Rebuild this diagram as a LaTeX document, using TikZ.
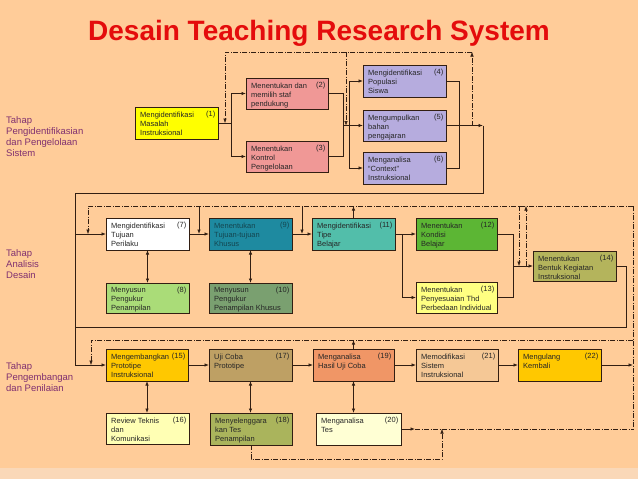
\documentclass[tikz,border=0pt]{standalone}
\usepackage{fontspec}
\setmainfont{Liberation Sans}
\usetikzlibrary{arrows.meta}
\definecolor{bgc}{RGB}{255,204,153}
\definecolor{bandc}{RGB}{250,216,184}
\definecolor{ttl}{RGB}{228,12,12}
\definecolor{lblc}{RGB}{128,48,112}
\definecolor{ln}{RGB}{50,30,18}
\definecolor{c1}{RGB}{255,255,0}
\definecolor{c2}{RGB}{240,152,150}
\definecolor{c4}{RGB}{182,172,222}
\definecolor{c8}{RGB}{170,220,120}
\definecolor{c9}{RGB}{30,138,160}
\definecolor{c10}{RGB}{122,160,112}
\definecolor{c11}{RGB}{82,190,170}
\definecolor{c12}{RGB}{92,182,52}
\definecolor{c13}{RGB}{255,255,130}
\definecolor{c14}{RGB}{180,180,92}
\definecolor{c15}{RGB}{255,200,0}
\definecolor{c16}{RGB}{255,255,180}
\definecolor{c17}{RGB}{190,160,100}
\definecolor{c18}{RGB}{170,180,92}
\definecolor{c19}{RGB}{240,150,102}
\definecolor{c20}{RGB}{255,255,212}
\definecolor{c21}{RGB}{245,200,150}
\definecolor{t9}{RGB}{20,70,80}
\newcommand\mybox[8]{%
  \node[boxst, fill=#6, minimum width=#4pt, minimum height=#5pt, anchor=north west] (#1) at (#2,#3) {};
  \node[boxtxt, anchor=north west] (#1t) at ([xshift=5pt,yshift=-4.5pt]#1.north west) {#7};
  \node[boxnum, anchor=north east] (#1n) at ([xshift=-2.5pt,yshift=-3.5pt]#1.north east) {#8};
}
\begin{document}
\begin{tikzpicture}[x=1pt,y=-1pt,
  boxst/.style={draw=ln, line width=0.8pt, inner sep=0pt, outer sep=0pt},
  boxtxt/.style={font=\fontsize{7.5}{9}\selectfont, align=left, inner sep=0pt, text=black!85},
  boxnum/.style={font=\fontsize{7.5}{9}\selectfont, inner sep=0pt, text=black!85},
  conn/.style={draw=ln, line width=0.75pt},
  arr/.style={conn, -{Latex[length=4.5pt,width=3.5pt]}},
  dbl/.style={conn, {Latex[length=4.5pt,width=3.5pt]}-{Latex[length=4.5pt,width=3.5pt]}},
  dsh/.style={draw=ln, line width=0.5pt, dash pattern=on 5pt off 1.5pt on 1pt off 1.5pt},
  dsharr/.style={dsh, -{Latex[length=4.5pt,width=3.5pt]}},
  lbl/.style={font=\fontsize{9.5}{11}\selectfont, text=lblc, align=left, inner sep=0pt, anchor=north west}
]
\useasboundingbox (0,0) rectangle (638,479);
\fill[bgc] (0,0) rectangle (638,479);
\fill[bandc] (0,468) rectangle (638,479);

\node[font=\fontsize{28}{30}\selectfont\bfseries, text=ttl, inner sep=0pt] (title) at (319,33) {Desain Teaching Research System};

\node[lbl] (L1) at (6,116) {Tahap\\Pengidentifikasian\\dan Pengelolaan\\Sistem};
\node[lbl] (L2) at (6,249) {Tahap\\Analisis\\Desain};
\node[lbl] (L3) at (6,362) {Tahap\\Pengembangan\\dan Penilaian};

% Row 1
\mybox{n1}{135}{107}{83}{32}{c1}{Mengidentifikasi\\Masalah\\Instruksional}{(1)}
\mybox{n2}{246}{78}{82}{31}{c2}{Menentukan dan\\memilih staf\\pendukung}{(2)}
\mybox{n3}{246}{141}{82}{31}{c2}{Menentukan\\Kontrol\\Pengelolaan}{(3)}
\mybox{n4}{363}{65}{83}{32}{c4}{Mengidentifikasi\\Populasi\\Siswa}{(4)}
\mybox{n5}{363}{110}{83}{31}{c4}{Mengumpulkan\\bahan\\pengajaran}{(5)}
\mybox{n6}{363}{152}{83}{32}{c4}{Menganalisa\\“Context”\\Instruksional}{(6)}

% Row 2
\mybox{n7}{106}{218}{83}{32}{white}{Mengidentifikasi\\Tujuan\\Perilaku}{(7)}
\mybox{n9}{209}{218}{83}{32}{c9}{\color{t9}Menentukan\\\color{t9}Tujuan-tujuan\\\color{t9}Khusus}{\color{t9}(9)}
\mybox{n11}{312}{218}{83}{32}{c11}{Mengidentifikasi\\Tipe\\Belajar}{(11)}
\mybox{n12}{416}{218}{81}{32}{c12}{Menentukan\\Kondisi\\Belajar}{(12)}
\mybox{n13}{416}{282}{81}{31}{c13}{Menentukan\\Penyesuaian Thd\\Perbedaan Individual}{(13)}
\mybox{n14}{533}{251}{83}{30}{c14}{Menentukan\\Bentuk Kegiatan\\Instruksional}{(14)}
\mybox{n8}{106}{283}{83}{30}{c8}{Menyusun\\Pengukur\\Penampilan}{(8)}
\mybox{n10}{209}{283}{83}{30}{c10}{Menyusun\\Pengukur\\Penampilan Khusus}{(10)}

% Row 3
\mybox{n15}{106}{349}{82}{32}{c15}{Mengembangkan\\Prototipe\\Instruksional}{(15)}
\mybox{n17}{209}{349}{83}{32}{c17}{Uji Coba\\Prototipe}{(17)}
\mybox{n19}{313}{349}{81}{32}{c19}{Menganalisa\\Hasil Uji Coba}{(19)}
\mybox{n21}{416}{349}{82}{32}{c21}{Memodifikasi\\Sistem\\Instruksional}{(21)}
\mybox{n22}{518}{349}{83}{32}{c15}{Mengulang\\Kembali}{(22)}
\mybox{n16}{106}{413}{83}{31}{c16}{Review Teknis\\dan\\Komunikasi}{(16)}
\mybox{n18}{210}{413}{82}{32}{c18}{Menyelenggara\\kan Tes\\Penampilan}{(18)}
\mybox{n20}{316}{413}{85}{32}{c20}{Menganalisa\\Tes}{(20)}

% ---- Row 1 connectors
\coordinate (j1) at (231,123);
\draw[conn] (n1.east) -- (j1);
\draw[arr] (j1) |- (n2.west);
\draw[arr] (j1) |- (n3.west);
\coordinate (j2) at (343,125.5);
\coordinate (j3) at (349,125.5);
\draw[conn] (n2.east) -| (j2);
\draw[conn] (n3.east) -| (j2);
\draw[arr] (j2) -- (n5.west);
\draw[arr] (j3) |- (n4.west);
\draw[arr] (j3) |- (n6.west);
\coordinate (j4) at (459,125.5);
\draw[conn] (n4.east) -| (j4);
\draw[conn] (n6.east) -| (j4);
\coordinate (j5) at (483,125.5);
\draw[arr] (n5.east) -- (j5);
\coordinate (d1) at (472,125.5);
\coordinate (d2) at (472,52);
\coordinate (d3) at (225,52);
\coordinate (d4) at (225,123);
\coordinate (d5) at (346,52);
\coordinate (d6) at (346,125.5);
\draw[dsharr] (d1) -- (d2);
\draw[dsharr] (d2) -- (d3) -- (d4);
\draw[dsharr] (d5) -- (d6);

% ---- frame to rows 2 and 3
\coordinate (f1) at (483,193);
\coordinate (f2) at (75,193);
\coordinate (f3) at (75,234);
\coordinate (f4) at (75,365);
\draw[conn] (j5) -- (f1) -- (f2) -- (f4);
\draw[arr] (f3) -- (n7.west);
\draw[arr] (f4) -- (n15.west);

% ---- Row 2 connectors
\draw[arr] (n7.east) -- (n9.west);
\draw[arr] (n9.east) -- (n11.west);
\draw[dbl] (n7.south) -- (n8.north);
\draw[dbl] (n9.south) -- (n10.north);
\coordinate (j6) at (402,234);
\draw[conn] (n11.east) -- (j6);
\draw[arr] (j6) |- (n12.west);
\draw[arr] (j6) |- (n13.west);
\coordinate (j7) at (513,266);
\draw[conn] (n12.east) -| (j7);
\draw[conn] (n13.east) -| (j7);
\draw[arr] (j7) -- (n14.west);
\coordinate (e1) at (633,206);
\coordinate (e2) at (88,206);
\coordinate (e3) at (88,234);
\draw[dsharr] (e1) -- (e2) -- (e3);
\coordinate (s1) at (199,206);
\coordinate (s1b) at (199,234);
\coordinate (s2) at (302,206);
\coordinate (s2b) at (302,234);
\draw[arr] (s1) -- (s1b);
\draw[arr] (s2) -- (s2b);
\draw[arr] (n11.north) -- (n11.north |- e1);
\coordinate (g1) at (519,206);
\coordinate (g1b) at (519,266);
\coordinate (g2) at (526,266);
\coordinate (g2b) at (526,206);
\draw[dsharr] (g1) -- (g1b);
\draw[dsharr] (g2) -- (g2b);
\coordinate (h1) at (626,327);
\coordinate (h2) at (75,327);
\draw[conn] (n14.east) -| (h1) -- (h2);
\coordinate (e4) at (633,429);
\draw[dsh] (e1) -- (e4);

% ---- Row 3 connectors
\draw[arr] (n15.east) -- (n17.west);
\draw[arr] (n17.east) -- (n19.west);
\draw[arr] (n19.east) -- (n21.west);
\draw[arr] (n21.east) -- (n22.west);
\coordinate (k1) at (633,365);
\draw[arr] (n22.east) -- (k1);
\coordinate (m1) at (633,340);
\coordinate (m2) at (91,340);
\coordinate (m3) at (91,365);
\draw[dsharr] (m1) -- (m2) -- (m3);
\draw[arr] (n19.north) -- (n19.north |- m1);
\draw[dbl] (n15.south) -- (n15.south |- n16.north);
\draw[dbl] (n17.south) -- (n17.south |- n18.north);
\draw[dbl] (n19.south) -- (n19.south |- n20.north);
\coordinate (p1) at (415,429);
\draw[arr] (n20.east) -- (p1);
\draw[dsh] (p1) -- (e4);
\coordinate (q1) at (251,459);
\coordinate (q2) at (442,459);
\coordinate (q3) at (442,429);
\draw[dsharr] (n18.south) -- (q1) -- (q2) -- (q3);
\end{tikzpicture}
\end{document}
